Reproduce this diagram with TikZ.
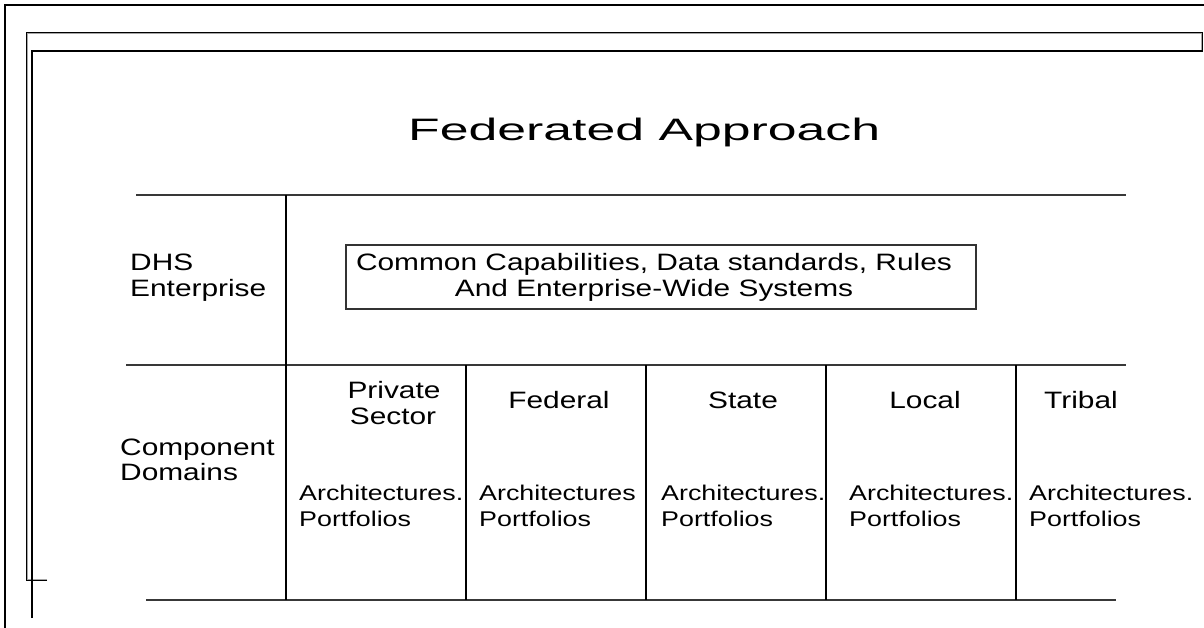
\documentclass[tikz,border=0pt]{standalone}
\usepackage{fontspec}
\setmainfont{Liberation Sans}
\newfontfamily\titlefam[FakeStretch=1.67]{Liberation Sans}
\newfontfamily\bodyfam[FakeStretch=1.26]{Liberation Sans}
\begin{document}
\begin{tikzpicture}[x=1pt,y=-1pt,
  tline/.style={draw=black!78,line width=1.4pt},
  vline/.style={draw=black,line width=1.2pt},
  ttl/.style={inner sep=0pt,anchor=base west,font=\titlefam\fontsize{31}{34}\selectfont},
  lbl/.style={inner sep=0pt,anchor=base west,font=\bodyfam\fontsize{23.7}{26}\selectfont},
  lblc/.style={inner sep=0pt,anchor=base,font=\bodyfam\fontsize{23.7}{26}\selectfont},
  small/.style={inner sep=0pt,anchor=base west,font=\bodyfam\fontsize{21.3}{26}\selectfont}]
\useasboundingbox (0,0) rectangle (1204,628);
\fill[white] (0,0) rectangle (1204,628);
% frames
\draw[black,line width=2.2pt] (5,628) -- (5,5) -- (1204,5);
\draw[gray!70,line width=2pt] (47,580) -- (27.3,580) -- (27.3,33) -- (1202,33) -- (1202,52);
\draw[black,line width=0.9pt] (47,580.5) -- (26.3,580.5) -- (26.3,32) -- (1202.7,32) -- (1202.7,52);
\draw[black,line width=1.3pt] (32,618) -- (32,51) -- (1202,51);
% title
\node[ttl] (title) at (408,141) {Federated Approach};
% table lines
\draw[tline] (136,195) -- (1126,195);
\draw[tline] (126,365) -- (1126,365);
\draw[tline] (146,600) -- (1116,600);
\draw[vline] (286,195) -- (286,600);
\foreach \x in {466,646,826,1016} \draw[vline] (\x,365) -- (\x,600);
% row labels
\node[lbl] (dhs) at (130,270) {DHS};
\node[lbl] (ent) at (130,296) {Enterprise};
\node[lbl] (comp) at (120,455) {Component};
\node[lbl] (dom) at (120,480) {Domains};
% box
\draw[black!80,line width=1.1pt] (346,245) rectangle (976,309);
\node[lblc] (common) at (654,271) {Common Capabilities, Data standards, Rules};
\node[lblc] (andent) at (654,296) {And Enterprise-Wide Systems};
% column headers
\node[lblc] (priv) at (394,398) {Private};
\node[lblc] (sect) at (393,424) {Sector};
\node[lblc] (fed) at (559,408) {Federal};
\node[lblc] (state) at (743,408) {State};
\node[lblc] (local) at (925,408) {Local};
\node[lblc] (tribal) at (1081,408) {Tribal};
% column contents
\node[small] (a1) at (299,500) {Architectures.};
\node[small] (p1) at (299,526) {Portfolios};
\node[small] (a2) at (479,500) {Architectures};
\node[small] (p2) at (479,526) {Portfolios};
\node[small] (a3) at (661,500) {Architectures.};
\node[small] (p3) at (661,526) {Portfolios};
\node[small] (a4) at (849,500) {Architectures.};
\node[small] (p4) at (849,526) {Portfolios};
\node[small] (a5) at (1029,500) {Architectures.};
\node[small] (p5) at (1029,526) {Portfolios};
\end{tikzpicture}
\end{document}
